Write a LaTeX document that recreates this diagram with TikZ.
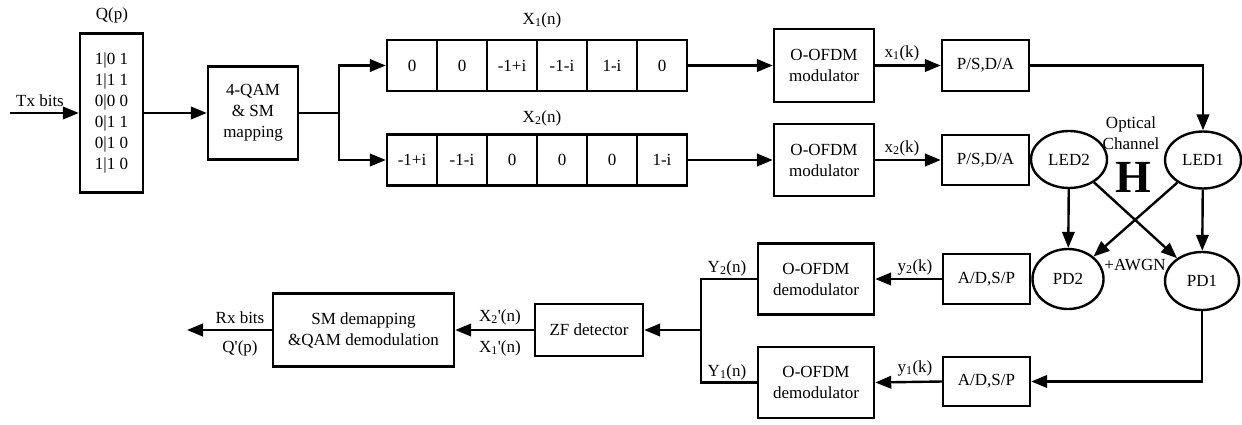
\documentclass[tikz,border=0pt]{standalone}
\usepackage{fontspec}
\setmainfont{Liberation Serif}
\usetikzlibrary{arrows.meta,shapes.geometric}
\begin{document}
\begin{tikzpicture}[x=1pt,y=-1pt,
  font=\fontsize{17}{21}\selectfont,
  line width=2.4pt,
  arr/.style={-{Triangle[length=16pt,width=12.5pt]}},
  blk/.style={draw,line width=2.4pt,align=center,inner sep=0pt},
  cell/.style={draw,line width=2.4pt,minimum width=50pt,minimum height=51pt,inner sep=0pt},
  oval/.style={draw,ellipse,line width=2.4pt,inner sep=0pt},
  lbl/.style={inner sep=0pt,align=center}]
\path[use as bounding box] (0,0) rectangle (1242,424);

% transmitter
\node[blk,minimum width=63pt,minimum height=159pt] (q) at (111.5,113)
  {1|0 1\\1|1 1\\0|0 0\\0|1 1\\0|1 0\\1|1 0};
\node[lbl] (qlbl) at (112,15) {Q(p)};
\coordinate (tx) at (10,113);
\draw[arr] (tx) -- (q.west);
\node[lbl] (txlbl) at (40,101) {Tx bits};

\node[blk,minimum width=90pt,minimum height=93pt] (qam) at (253,113)
  {4-QAM\\\& SM\\mapping};
\draw[arr] (q.east) -- (qam.west);

% symbol vectors
\node[cell] (a1) at (412,65.5) {0};
\node[cell] (a2) at (462,65.5) {0};
\node[cell] (a3) at (512,65.5) {-1+i};
\node[cell] (a4) at (562,65.5) {-1-i};
\node[cell] (a5) at (612,65.5) {1-i};
\node[cell] (a6) at (662,65.5) {0};
\node[cell] (b1) at (412,160) {-1+i};
\node[cell] (b2) at (462,160) {-1-i};
\node[cell] (b3) at (512,160) {0};
\node[cell] (b4) at (562,160) {0};
\node[cell] (b5) at (612,160) {0};
\node[cell] (b6) at (662,160) {1-i};
\node[lbl] (x1lbl) at (542,20) {X\textsubscript{1}(n)};
\node[lbl] (x2lbl) at (542,118) {X\textsubscript{2}(n)};

\coordinate (sp) at (339,113);
\draw (qam.east) -- (sp);
\draw[arr] (sp) |- (a1.west);
\draw[arr] (sp) |- (b1.west);

% modulators and converters
\node[blk,minimum width=100pt,minimum height=73pt] (mod1) at (824,65.5) {O-OFDM\\modulator};
\node[blk,minimum width=100pt,minimum height=72pt] (mod2) at (824,160) {O-OFDM\\modulator};
\draw[arr] (a6.east) -- (mod1.west);
\draw[arr] (b6.east) -- (mod2.west);

\node[blk,minimum width=87pt,minimum height=51pt] (ps1) at (985.5,65.5) {P/S,D/A};
\node[blk,minimum width=87pt,minimum height=50pt] (ps2) at (985.5,160) {P/S,D/A};
\draw[arr] (mod1.east) -- (ps1.west);
\draw[arr] (mod2.east) -- (ps2.west);
\node[lbl] (xk1) at (902,53) {x\textsubscript{1}(k)};
\node[lbl] (xk2) at (902,148) {x\textsubscript{2}(k)};

% optical channel
\node[oval,minimum width=76pt,minimum height=57pt] (led2) at (1069,159.5) {LED2};
\node[oval,minimum width=76pt,minimum height=57pt] (led1) at (1203,160) {LED1};
\node[oval,minimum width=71pt,minimum height=60pt] (pd2) at (1068,279) {PD2};
\node[oval,minimum width=74pt,minimum height=58pt] (pd1) at (1202,281) {PD1};
\draw[arr] (ps1.east) -| (led1.north);
\draw[arr] (led2) -- (pd2);
\draw[arr] (led1) -- (pd1);
\draw[arr] (led2) -- (pd1);
\draw[arr] (led1) -- (pd2);
\node[lbl] (opt) at (1131,133.5) {Optical\\Channel};
\node[lbl,font=\fontsize{46}{46}\selectfont\bfseries] (hch) at (1133,177) {H};
\node[lbl] (awgn) at (1135,265) {+AWGN};

% receiver
\node[blk,minimum width=87pt,minimum height=50pt] (ad2) at (986.5,279) {A/D,S/P};
\node[blk,minimum width=87pt,minimum height=49pt] (ad1) at (986.5,381.5) {A/D,S/P};
\draw[arr] (pd1.south) |- (ad1.east);

\node[blk,minimum width=116pt,minimum height=71pt] (dm2) at (816,279) {O-OFDM\\demodulator};
\node[blk,minimum width=116pt,minimum height=71pt] (dm1) at (816,382.5) {O-OFDM\\demodulator};
\draw[arr] (ad2.west) -- (dm2.west -| dm2.east);
\draw[arr] (ad1.west) -- (dm1.west -| dm1.east);
\node[lbl] (yk2) at (915,267) {y\textsubscript{2}(k)};
\node[lbl] (yk1) at (915,368) {y\textsubscript{1}(k)};

\node[blk,minimum width=108pt,minimum height=52pt] (zf) at (589,330) {ZF detector};
\coordinate (jn) at (701,330);
\draw (dm2.west) -| (jn) |- (dm1.west);
\draw[arr] (jn) -- (zf.east);
\node[lbl] (yn2) at (727,268) {Y\textsubscript{2}(n)};
\node[lbl] (yn1) at (727,372) {Y\textsubscript{1}(n)};

\node[blk,minimum width=181pt,minimum height=73pt] (sm) at (363.5,330) {SM demapping\\\&QAM demodulation};
\draw[arr] (zf.west) -- (sm.east);
\node[lbl] (xd2) at (500,317) {X\textsubscript{2}\textquotesingle(n)};
\node[lbl] (xd1) at (500,348) {X\textsubscript{1}\textquotesingle(n)};

\coordinate (rx) at (187,330);
\draw[arr] (sm.west) -- (rx);
\node[lbl] (rxlbl) at (240,318) {Rx bits};
\node[lbl] (qd) at (240,348) {Q\textquotesingle(p)};
\end{tikzpicture}
\end{document}
